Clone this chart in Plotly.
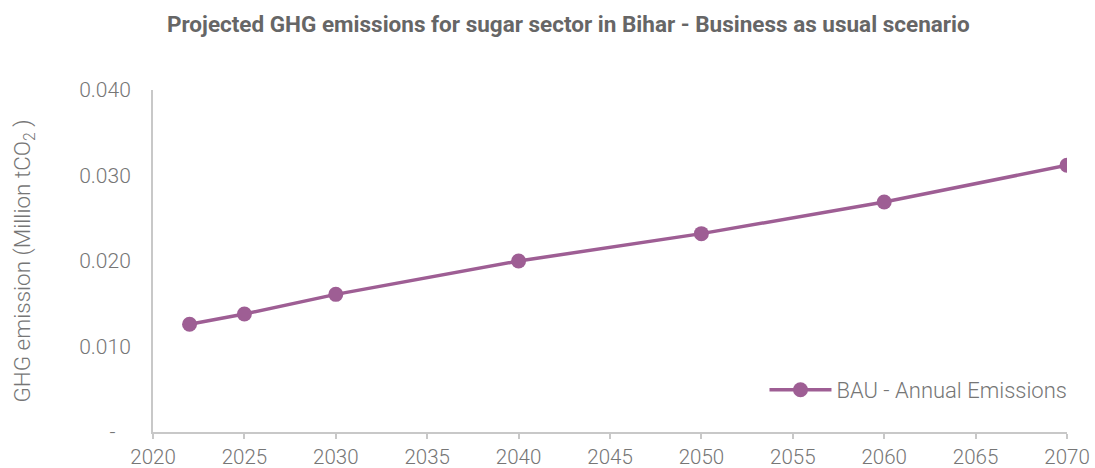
import plotly.graph_objects as go

years = [2022, 2025, 2030, 2040, 2050, 2060, 2070]
emissions = [0.0126, 0.0138, 0.0161, 0.0200, 0.0232, 0.0269, 0.0312]
y_tickvals = [0, 0.010, 0.020, 0.030, 0.040]
y_ticktext = ["-\u00a0\u00a0\u00a0", "0.010", "0.020", "0.030", "0.040"]
x_tickvals = list(range(2020, 2071, 5))

color = "#9e5e94"
gray = "#767676"

fig = go.Figure()
fig.add_trace(go.Scatter(
    x=years, y=emissions, mode="lines+markers",
    name="BAU - Annual Emissions",
    line=dict(color=color, width=3.5),
    marker=dict(color=color, size=15),
))

fig.update_layout(
    width=1095, height=468,
    paper_bgcolor="white", plot_bgcolor="white",
    margin=dict(l=153, r=28, t=90, b=36, autoexpand=False),
    title=dict(text="<b>Projected GHG emissions for sugar sector in Bihar - Business as usual scenario</b>",
               x=0.519, xanchor="center", y=0.948, yanchor="middle",
               font=dict(family="Roboto", size=22.5, color="#666666")),
    font=dict(family="Roboto", color=gray),
    legend=dict(x=1.006, xanchor="right", y=0.123, yanchor="middle", itemwidth=62,
                bgcolor="rgba(0,0,0,0)", font=dict(size=22, color=gray, weight=300)),
    showlegend=True,
)
fig.update_xaxes(
    range=[2020, 2070], tickvals=x_tickvals,
    showgrid=False, zeroline=False, automargin=False,
    showline=True, linecolor="#c8c8c8", linewidth=2,
    ticks="outside", tickcolor="#c8c8c8", ticklen=5, tickwidth=2,
    tickfont=dict(size=20.5, color=gray, weight=300),
)
fig.update_yaxes(
    range=[0, 0.040], tickvals=y_tickvals, ticktext=y_ticktext,
    showgrid=False, zeroline=False, automargin=False,
    showline=True, linecolor="#c8c8c8", linewidth=2,
    ticks="", ticklabelstandoff=16,
    tickfont=dict(size=21, color=gray, weight=300),
    title=dict(text="GHG emission (Million tCO<sub>2</sub> )", standoff=42,
               font=dict(size=22.5, color=gray, weight=300)),
)

fig.write_html("out.html")
